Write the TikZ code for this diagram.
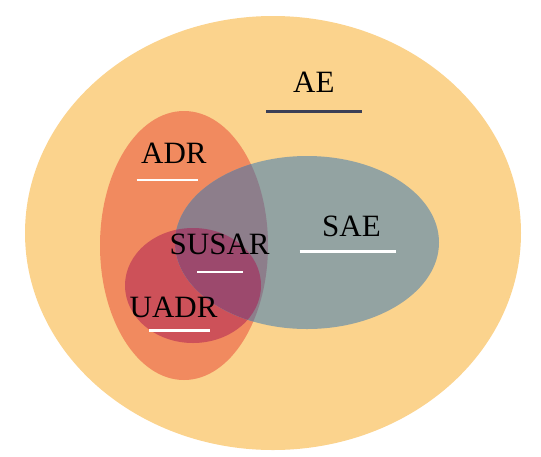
\documentclass[tikz,border=0pt]{standalone}
\usepackage{fontspec}
\setmainfont{Liberation Serif}
\definecolor{aecol}{HTML}{FBD38D}
\definecolor{adrcol}{HTML}{F18A5F}
\definecolor{uadrcol}{HTML}{CD5159}
\definecolor{saecol}{HTML}{93A3A2}
\definecolor{saeadr}{HTML}{8D7E8B}
\definecolor{susarcol}{HTML}{9C496D}
\definecolor{aeline}{HTML}{3B3F56}
\begin{document}
\begin{tikzpicture}[x=1pt,y=-1pt,
  lbl/.style={anchor=base west,inner sep=0pt,font=\fontsize{31}{31}\selectfont},
  wline/.style={draw=white,line width=2.5pt},
  dline/.style={draw=aeline,line width=2.5pt}]
\useasboundingbox (0,0) rectangle (541,456);
% sets
\fill[aecol] (273,233) ellipse [x radius=248, y radius=217];
\fill[adrcol] (184,245.5) ellipse [x radius=84, y radius=134.5];
\fill[uadrcol] (193,285.5) ellipse [x radius=68, y radius=57.5];
\fill[saecol] (307,242.5) ellipse [x radius=132, y radius=86.5];
\begin{scope}
  \clip (307,242.5) ellipse [x radius=132, y radius=86.5];
  \fill[saeadr] (184,245.5) ellipse [x radius=84, y radius=134.5];
  \fill[susarcol] (193,285.5) ellipse [x radius=68, y radius=57.5];
\end{scope}
% labels
\node[lbl] (ae) at (293,92.5) {AE};
\node[lbl] (sae) at (322,236.5) {SAE};
\node[lbl] (adr) at (141,163) {ADR};
\node[lbl] (susar) at (169.5,254) {SUSAR};
\node[lbl] (uadr) at (129.5,317.5) {UADR};
% underlines
\coordinate (ae1) at (266,111.3); \coordinate (ae2) at (362,111.3);
\coordinate (sae1) at (299.5,251.5); \coordinate (sae2) at (396,251.5);
\coordinate (adr1) at (136.7,179.8); \coordinate (adr2) at (197.7,179.8);
\coordinate (su1) at (197.3,272); \coordinate (su2) at (242.7,272);
\coordinate (ua1) at (149,330.5); \coordinate (ua2) at (210,330.5);
\draw[dline] (ae1) -- (ae2);
\draw[wline] (sae1) -- (sae2);
\draw[wline] (adr1) -- (adr2);
\draw[wline] (su1) -- (su2);
\draw[wline] (ua1) -- (ua2);
\end{tikzpicture}
\end{document}
